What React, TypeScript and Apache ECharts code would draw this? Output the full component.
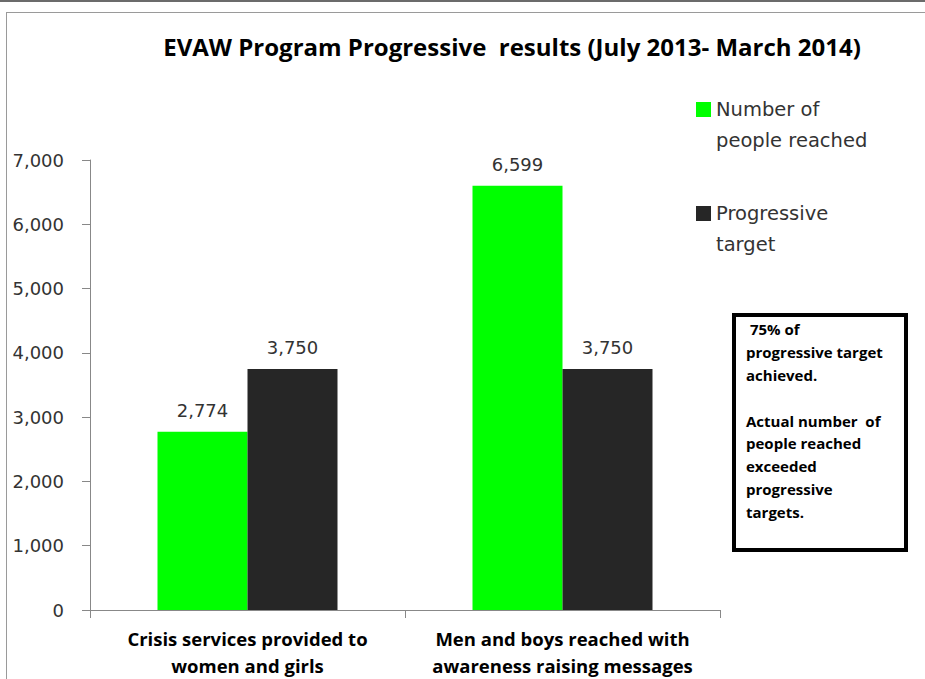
import React, { useEffect, useRef } from "react";
import * as echarts from "echarts";

const categories = [
  "Crisis services provided to\nwomen and girls",
  "Men and boys reached with\nawareness raising messages",
];
const reachedValues = [2774, 6599];
const targetValues = [3750, 3750];
const seriesNames = ["Number of people reached", "Progressive target"];
const legendLines = [
  ["Number of", "people reached"],
  ["Progressive", "target"],
];
const boxLines = [
  " 75% of",
  "progressive target",
  "achieved.",
  "",
  "Actual number  of",
  "people reached",
  "exceeded",
  "progressive",
  "targets.",
];
const colors = ["#00ff00", "#262626"];

export default function App() {
  const ref = useRef<HTMLDivElement>(null);
  useEffect(() => {
    if (!ref.current) return;
    const chart = echarts.init(ref.current, undefined, { renderer: "svg" });
    const labelFont = "DejaVu Sans, Verdana, sans-serif";
    const boldFont = "'Open Sans', 'Liberation Sans', Arial, sans-serif";
    const graphics: any[] = [
      { type: "rect", shape: { x: 0, y: 0, width: 925, height: 2 }, style: { fill: "#6b6b6b" } },
      { type: "line", shape: { x1: 6, y1: 12.5, x2: 925, y2: 12.5 }, style: { stroke: "#9a9a9a", lineWidth: 1 } },
      { type: "line", shape: { x1: 6.5, y1: 12, x2: 6.5, y2: 679 }, style: { stroke: "#9a9a9a", lineWidth: 1 } },
      {
        type: "rect",
        shape: { x: 734, y: 315, width: 172, height: 235 },
        style: { fill: "#fff", stroke: "#000", lineWidth: 4 },
      },
      {
        type: "text",
        left: 746,
        top: 318,
        style: {
          text: boxLines.join("\n"),
          font: `bold 15px ${boldFont}`,
          lineHeight: 22.8,
          fill: "#000",
        },
      },
    ];
    legendLines.forEach((lines, i) => {
      const top = 101 + i * 104;
      graphics.push({
        type: "rect",
        shape: { x: 696, y: top + 1, width: 15, height: 15 },
        style: { fill: colors[i] },
      });
      graphics.push({
        type: "text",
        left: 716,
        top: top - 7,
        style: {
          text: lines.join("\n"),
          font: `19.5px ${labelFont}`,
          lineHeight: 31,
          fill: "#333",
        },
      });
    });

    const valueLabel = {
      show: true,
      position: "top",
      distance: 12,
      fontFamily: labelFont,
      fontSize: 18,
      color: "#333",
      formatter: (p: any) => Number(p.value).toLocaleString("en-US"),
    };

    chart.setOption({
      animation: false,
      backgroundColor: "#fff",
      title: {
        text: "EVAW Program Progressive  results (July 2013- March 2014)",
        left: 507,
        textAlign: "center",
        top: 29,
        textStyle: {
          fontFamily: boldFont,
          fontWeight: "bold",
          fontSize: 24,
          color: "#000",
        },
      },
      grid: { left: 90, right: 205, top: 160, bottom: 65, containLabel: false },
      xAxis: {
        type: "category",
        data: categories,
        axisLine: { lineStyle: { color: "#888", width: 1 } },
        axisTick: { show: true, length: 8, lineStyle: { color: "#888" } },
        axisLabel: {
          interval: 0,
          margin: 15,
          fontFamily: boldFont,
          fontWeight: "bold",
          fontSize: 18.5,
          lineHeight: 27,
          color: "#000",
        },
      },
      yAxis: {
        type: "value",
        min: 0,
        max: 7000,
        interval: 1000,
        axisLine: { show: true, lineStyle: { color: "#888", width: 1 } },
        axisTick: { show: true, length: 8, lineStyle: { color: "#888" } },
        splitLine: { show: false },
        axisLabel: {
          margin: 26,
          fontFamily: labelFont,
          fontSize: 18,
          color: "#333",
          formatter: (v: number) => v.toLocaleString("en-US"),
        },
      },
      series: [
        {
          name: seriesNames[0],
          type: "bar",
          data: reachedValues,
          barWidth: 90,
          barGap: "0%",
          itemStyle: { color: colors[0] },
          label: valueLabel,
        },
        {
          name: seriesNames[1],
          type: "bar",
          data: targetValues,
          barWidth: 90,
          barGap: "0%",
          itemStyle: { color: colors[1] },
          label: valueLabel,
        },
      ],
      graphic: graphics,
    });
    return () => chart.dispose();
  }, []);
  return <div ref={ref} style={{ width: 925, height: 679, position: "absolute", left: 0, top: 0 }} />;
}
